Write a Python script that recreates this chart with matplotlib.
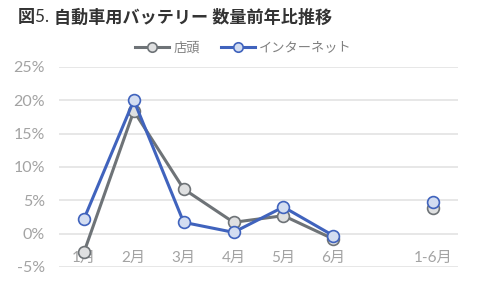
import numpy as np
import matplotlib.pyplot as plt
from matplotlib.ticker import FuncFormatter

plt.rcParams['font.family'] = ['Lato', 'Noto Sans CJK JP', 'DejaVu Sans']

months = ['1月', '2月', '3月', '4月', '5月', '6月', '', '1-6月']
tento = [-2.8, 18.4, 6.7, 1.7, 2.7, -0.8, None, 3.9]
net = [2.2, 20.0, 1.7, 0.2, 4.0, -0.3, None, 4.7]

gray = '#6e7377'
gray_fill = '#dfe0e1'
blue = '#4063bd'
blue_fill = '#d3ddf1'
tick_c = '#a3a3a3'

fig = plt.figure(figsize=(4.79, 2.87), dpi=100)
ax = fig.add_axes([59/479, 1-267/287, 399/479, 200/287])

x = np.arange(len(months))
t = np.array([np.nan if v is None else v for v in tento], dtype=float)
n = np.array([np.nan if v is None else v for v in net], dtype=float)

ax.plot(x, t, color=gray, lw=2.2, marker='o', ms=8.5, mfc=gray_fill,
        mec=gray, mew=1.2, label='店頭', zorder=3)
ax.plot(x, n, color=blue, lw=2.2, marker='o', ms=8.5, mfc=blue_fill,
        mec=blue, mew=1.2, label='インターネット', zorder=4)

ax.set_xlim(-0.5, len(months) - 0.5)
ax.set_ylim(-5, 25)
ax.set_yticks(np.arange(-5, 26, 5))
ax.yaxis.set_major_formatter(FuncFormatter(lambda v, p: f'{v:.0f}%'))
ax.set_xticks(x)
ax.set_xticklabels(months)
ax.grid(axis='y', color='#e3e3e3', lw=1.2)
ax.set_axisbelow(True)
for s in ax.spines.values():
    s.set_visible(False)
ax.tick_params(axis='y', length=0, labelsize=11.5, labelcolor=tick_c, pad=10)
ax.tick_params(axis='x', length=0, labelsize=11, labelcolor=tick_c, pad=-11.5)

# title: "図" bold, "5." regular, rest bold
r = fig.canvas.get_renderer()
xt = 18 / 479
yt = 1 - 17 / 287
for s, w in [('図', 'bold'), ('5. ', 'normal'), ('自動車用バッテリー 数量前年比推移', 'bold')]:
    tx = fig.text(xt, yt, s, fontsize=12.3, fontweight=w, va='center',
                  ha='left', color='#333333')
    bb = tx.get_window_extent(renderer=r)
    xt = (bb.x1) / fig.bbox.width

leg = fig.legend(loc='center', bbox_to_anchor=(0.508, 1-47/287), ncol=2,
                 frameon=False, fontsize=9.5, handlelength=2.6,
                 columnspacing=1.6, handletextpad=0.3, markerscale=0.8)
for txt in leg.get_texts():
    txt.set_color('#808080')

fig.savefig('out.png', dpi=100)
